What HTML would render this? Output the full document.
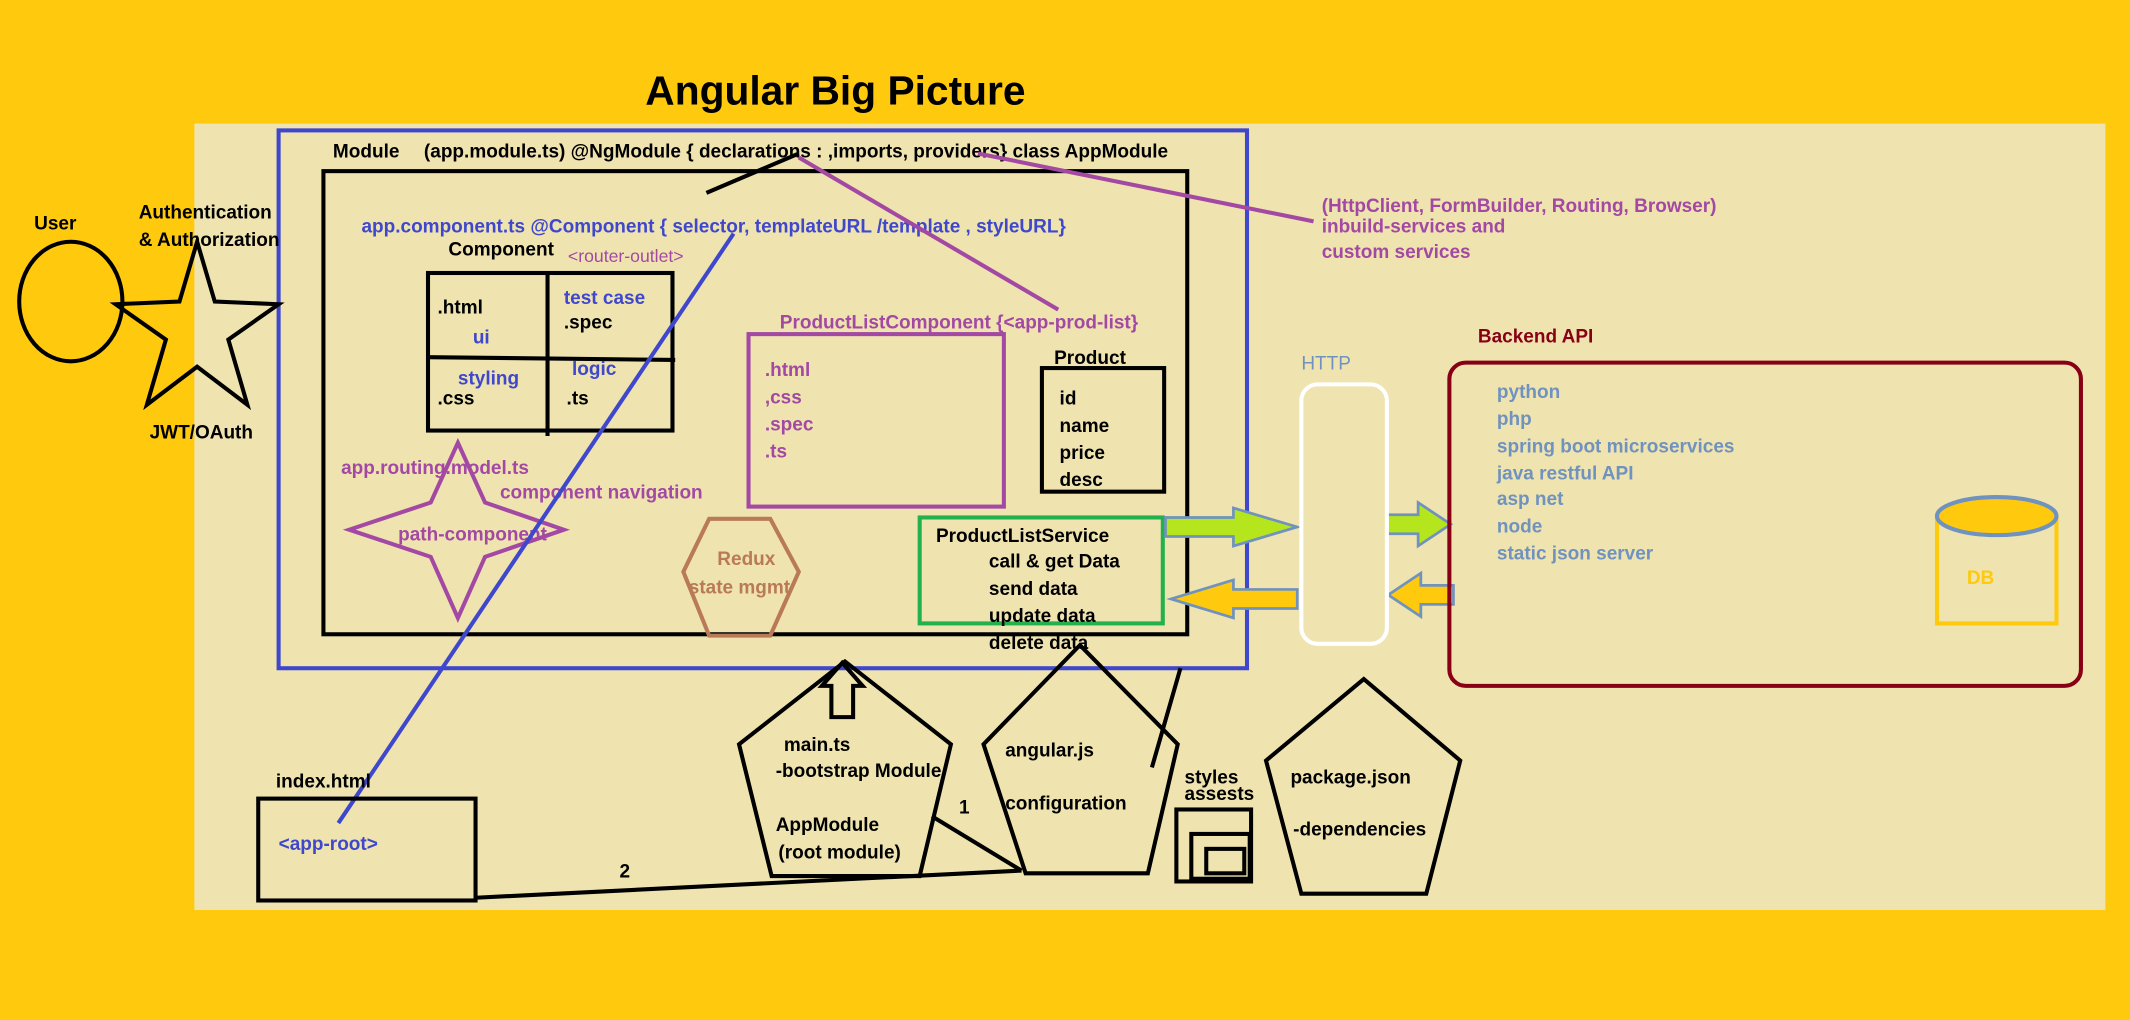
<!DOCTYPE html>
<html><head><meta charset="utf-8"><style>
html,body{margin:0;padding:0;background:#FFC90E;}
svg{display:block;}
text{font-family:"Liberation Sans",Arial,sans-serif;font-weight:bold;font-size:14px;}
</style></head><body>
<svg width="2130" height="1020" viewBox="0 0 1568 751" xmlns="http://www.w3.org/2000/svg">
<rect width="1568" height="751" fill="#FFC90E"/>
<rect x="143" y="91" width="1407" height="579" fill="#EFE4B0"/>
<text x="475" y="77" style="font-size:30px">Angular Big Picture</text>

<!-- module -->
<rect x="205" y="96" width="713" height="396" fill="none" stroke="#3F48CC" stroke-width="3"/>
<text x="245" y="116">Module</text>
<text x="312" y="116">(app.module.ts) @NgModule { declarations : ,imports, providers} class AppModule</text>
<rect x="238" y="126" width="636" height="341" fill="none" stroke="#000" stroke-width="3"/>
<text x="266" y="171" fill="#3F48CC">app.component.ts @Component { selector, templateURL /template , styleURL}</text>
<text x="330" y="188">Component</text>
<text x="418" y="193" fill="#A349A4" style="font-weight:normal;font-size:13px">&lt;router-outlet&gt;</text>

<rect x="315" y="201" width="180" height="116" fill="none" stroke="#000" stroke-width="3"/>
<line x1="403" y1="201" x2="403" y2="321" stroke="#000" stroke-width="3"/>
<line x1="315" y1="263" x2="497" y2="265" stroke="#000" stroke-width="3"/>
<text x="322" y="231">.html</text>
<text x="348" y="253" fill="#3F48CC">ui</text>
<text x="415" y="224" fill="#3F48CC">test case</text>
<text x="415" y="242">.spec</text>
<text x="337" y="283" fill="#3F48CC">styling</text>
<text x="322" y="298">.css</text>
<text x="421" y="276" fill="#3F48CC">logic</text>
<text x="417" y="298">.ts</text>

<polygon points="337,326 357,370 415,390 357,410 337,455 317,410 257,390 317,370" fill="none" stroke="#A349A4" stroke-width="3"/>
<text x="251" y="349" fill="#A349A4">app.routing.model.ts</text>
<text x="368" y="367" fill="#A349A4">component navigation</text>
<text x="293" y="398" fill="#A349A4">path-component</text>

<polygon points="503,421 522,382 567,382 588,421 567,468 522,468" fill="none" stroke="#B97A57" stroke-width="3"/>
<text x="528" y="416" fill="#B97A57">Redux</text>
<text x="507" y="437" fill="#B97A57">state mgmt</text>

<text x="574" y="242" fill="#A349A4">ProductListComponent {&lt;app-prod-list}</text>
<rect x="551" y="246" width="188" height="127" fill="none" stroke="#A349A4" stroke-width="3"/>
<text x="563" y="277" fill="#A349A4">.html</text>
<text x="563" y="297" fill="#A349A4">,css</text>
<text x="563" y="317" fill="#A349A4">.spec</text>
<text x="563" y="337" fill="#A349A4">.ts</text>

<text x="776" y="268">Product</text>
<rect x="767" y="271" width="90" height="91" fill="none" stroke="#000" stroke-width="3"/>
<text x="780" y="298">id</text>
<text x="780" y="318">name</text>
<text x="780" y="338">price</text>
<text x="780" y="358">desc</text>

<rect x="677" y="381" width="179" height="78" fill="none" stroke="#22B14C" stroke-width="3"/>
<text x="689" y="399">ProductListService</text>
<text x="728" y="418">call &amp; get Data</text>
<text x="728" y="438">send data</text>
<text x="728" y="458">update data</text>
<text x="728" y="478">delete data</text>

<!-- arrows -->
<polygon points="858,381 908,381 908,374 955,388 908,402 908,395 858,395" fill="#B5E61D" stroke="#7092BE" stroke-width="2"/>
<polygon points="955,434 908,434 908,427 862,441 908,455 908,448 955,448" fill="#FFC90E" stroke="#7092BE" stroke-width="2"/>
<polygon points="1021,379 1044,379 1044,370 1068,386 1044,402 1044,393 1021,393" fill="#B5E61D" stroke="#7092BE" stroke-width="2"/>
<polygon points="1070,431 1046,431 1046,422 1022,438 1046,454 1046,445 1070,445" fill="#FFC90E" stroke="#7092BE" stroke-width="2"/>

<text x="958" y="272" fill="#7092BE" style="font-weight:normal">HTTP</text>
<rect x="958" y="283" width="63" height="191" rx="12" fill="#EFE4B0" stroke="#fff" stroke-width="3"/>

<text x="1088" y="252" fill="#880015">Backend API</text>
<rect x="1067" y="267" width="465" height="238" rx="12" fill="none" stroke="#880015" stroke-width="3"/>
<g fill="#7092BE">
<text x="1102" y="293">python</text>
<text x="1102" y="313">php</text>
<text x="1102" y="333">spring boot microservices</text>
<text x="1102" y="353">java restful API</text>
<text x="1102" y="372">asp net</text>
<text x="1102" y="392">node</text>
<text x="1102" y="412">static json server</text>
</g>
<path d="M1426,380 L1426,459 L1514,459 L1514,380" fill="none" stroke="#FFC90E" stroke-width="3"/>
<ellipse cx="1470" cy="380" rx="44" ry="14" fill="#FFC90E" stroke="#7092BE" stroke-width="3"/>
<text x="1448" y="430" fill="#FFC90E">DB</text>

<text x="973" y="156" fill="#A349A4">(HttpClient, FormBuilder, Routing, Browser)</text>
<text x="973" y="171" fill="#A349A4">inbuild-services and</text>
<text x="973" y="190" fill="#A349A4">custom services</text>

<line x1="720" y1="113" x2="967" y2="163" stroke="#A349A4" stroke-width="3"/>
<line x1="520" y1="142" x2="588" y2="113" stroke="#000" stroke-width="3"/>
<line x1="588" y1="116" x2="779" y2="228" stroke="#A349A4" stroke-width="3"/>
<line x1="540" y1="172" x2="249" y2="606" stroke="#3F48CC" stroke-width="3"/>

<!-- user -->
<text x="25" y="169">User</text>
<ellipse cx="52" cy="222" rx="38" ry="44" fill="none" stroke="#000" stroke-width="3"/>
<polygon points="145,178 158,222 205,224 168,250 182,298 145,270 108,298 122,250 85,224 132,222" fill="none" stroke="#000" stroke-width="3"/>
<text x="102" y="161">Authentication</text>
<text x="102" y="181">&amp; Authorization</text>
<text x="110" y="323">JWT/OAuth</text>

<!-- pentagons -->
<polygon points="622,487 700,548 677,645 568,645 544,548" fill="none" stroke="#000" stroke-width="3"/>
<polygon points="620,488 635,505 628,505 628,528 612,528 612,505 605,505" fill="none" stroke="#000" stroke-width="3"/>
<text x="577" y="553">main.ts</text>
<text x="571" y="572">-bootstrap Module</text>
<text x="571" y="612">AppModule</text>
<text x="573" y="632">(root module)</text>

<polygon points="795,475 867,548 845,643 755,643 724,548" fill="none" stroke="#000" stroke-width="3"/>
<text x="740" y="557">angular.js</text>
<text x="740" y="596">configuration</text>
<line x1="869" y1="492" x2="848" y2="565" stroke="#000" stroke-width="3"/>

<text x="872" y="577">styles</text>
<text x="872" y="589">assests</text>
<rect x="866" y="596" width="55" height="53" fill="none" stroke="#000" stroke-width="3"/>
<rect x="877" y="614" width="43" height="33" fill="none" stroke="#000" stroke-width="3"/>
<rect x="888" y="625" width="28" height="18" fill="none" stroke="#000" stroke-width="3"/>

<polygon points="1004,500 1075,560 1050,658 958,658 932,560" fill="none" stroke="#000" stroke-width="3"/>
<text x="950" y="577">package.json</text>
<text x="952" y="615">-dependencies</text>

<text x="203" y="580">index.html</text>
<rect x="190" y="588" width="160" height="75" fill="none" stroke="#000" stroke-width="3"/>
<text x="205" y="626" fill="#3F48CC">&lt;app-root&gt;</text>

<line x1="686" y1="601" x2="752" y2="641" stroke="#000" stroke-width="3"/>
<line x1="752" y1="641" x2="350" y2="661" stroke="#000" stroke-width="3"/>
<text x="706" y="599">1</text>
<text x="456" y="646">2</text>
</svg>
</body></html>
